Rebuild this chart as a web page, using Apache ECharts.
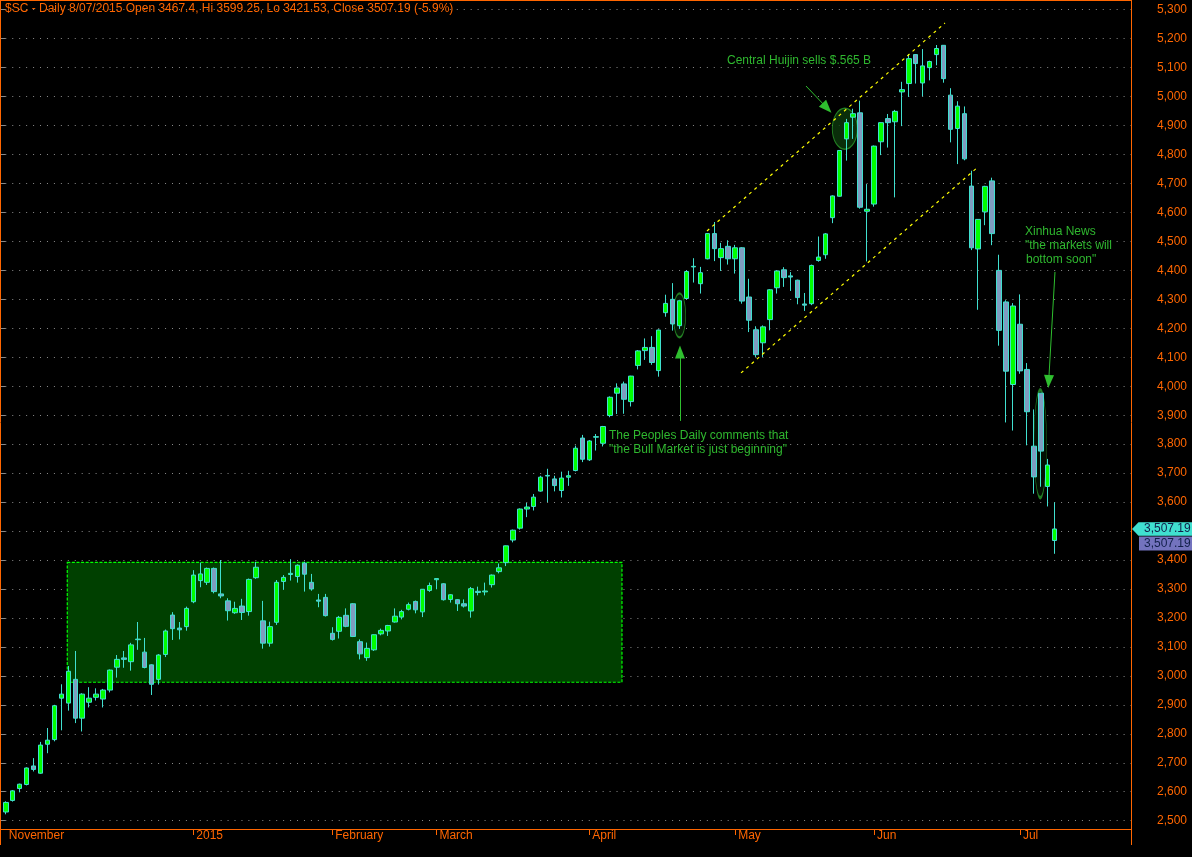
<!DOCTYPE html>
<html><head><meta charset="utf-8">
<script src="https://cdn.jsdelivr.net/npm/echarts@6/dist/echarts.min.js"></script>
<style>html,body{margin:0;padding:0;background:#000;}#c{width:1192px;height:857px;}</style>
</head><body><div id="c"></div>
<script>
// ---------- data ----------
const dates = [
'2014-11-25','2014-11-26','2014-11-27','2014-11-28',
'2014-12-01','2014-12-02','2014-12-03','2014-12-04','2014-12-05','2014-12-08','2014-12-09','2014-12-10','2014-12-11','2014-12-12',
'2014-12-15','2014-12-16','2014-12-17','2014-12-18','2014-12-19','2014-12-22','2014-12-23','2014-12-24','2014-12-25','2014-12-26',
'2014-12-29','2014-12-30','2014-12-31',
'2015-01-05','2015-01-06','2015-01-07','2015-01-08','2015-01-09','2015-01-12','2015-01-13','2015-01-14','2015-01-15','2015-01-16',
'2015-01-19','2015-01-20','2015-01-21','2015-01-22','2015-01-23','2015-01-26','2015-01-27','2015-01-28','2015-01-29','2015-01-30',
'2015-02-02','2015-02-03','2015-02-04','2015-02-05','2015-02-06','2015-02-09','2015-02-10','2015-02-11','2015-02-12','2015-02-13',
'2015-02-16','2015-02-17','2015-02-25','2015-02-26','2015-02-27',
'2015-03-02','2015-03-03','2015-03-04','2015-03-05','2015-03-06','2015-03-09','2015-03-10','2015-03-11','2015-03-12','2015-03-13',
'2015-03-16','2015-03-17','2015-03-18','2015-03-19','2015-03-20','2015-03-23','2015-03-24','2015-03-25','2015-03-26','2015-03-27',
'2015-03-30','2015-03-31',
'2015-04-01','2015-04-02','2015-04-03','2015-04-07','2015-04-08','2015-04-09','2015-04-10','2015-04-13','2015-04-14','2015-04-15',
'2015-04-16','2015-04-17','2015-04-20','2015-04-21','2015-04-22','2015-04-23','2015-04-24','2015-04-27','2015-04-28','2015-04-29','2015-04-30',
'2015-05-04','2015-05-05','2015-05-06','2015-05-07','2015-05-08','2015-05-11','2015-05-12','2015-05-13','2015-05-14','2015-05-15',
'2015-05-18','2015-05-19','2015-05-20','2015-05-21','2015-05-22','2015-05-25','2015-05-26','2015-05-27','2015-05-28','2015-05-29',
'2015-06-01','2015-06-02','2015-06-03','2015-06-04','2015-06-05','2015-06-08','2015-06-09','2015-06-10','2015-06-11','2015-06-12',
'2015-06-15','2015-06-16','2015-06-17','2015-06-18','2015-06-19','2015-06-23','2015-06-24','2015-06-25','2015-06-26','2015-06-29','2015-06-30',
'2015-07-01','2015-07-02','2015-07-03','2015-07-06','2015-07-07','2015-07-08'
];
const opens = [
2530,2570,2611,2625,2689,2664,2764,2780,2923,2906,
2988,2854,2909,2926,2920,2951,3030,3062,3049,3125,
3082,3038,2988,3074,3210,3165,3170,3256,3329,3323,
3371,3283,3259,3218,3241,3222,3339,3190,3113,3185,
3326,3350,3343,3389,3323,3262,3271,3147,3154,3209,
3249,3118,3063,3090,3145,3155,3186,3203,3230,3257,
3221,3295,3332,3318,3264,3263,3249,3224,3292,3290,
3315,3360,3391,3469,3510,3576,3585,3638,3690,3680,
3640,3686,3709,3821,3746,3824,3803,3899,3976,4008,
3947,4072,4123,4134,4054,4254,4300,4209,4303,4412,
4354,4440,4527,4444,4483,4440,4478,4308,4195,4150,
4230,4340,4402,4381,4366,4284,4285,4434,4454,4582,
4656,4854,4929,4944,4604,4629,4844,4924,4913,5016,
5045,5145,5047,5100,5145,5177,5005,4890,4941,4691,
4474,4602,4709,4400,4291,4006,4214,4058,3793,3976,
3654,3467.4];
const highs = [
2567,2606,2628,2684,2716,2772,2820,2900,2971,3034,
3086,2940,2961,2957,2955,3022,3072,3086,3114,3186,
3131,3040,3075,3160,3220,3186,3239,3365,3391,3374,
3374,3400,3268,3256,3266,3336,3394,3259,3187,3331,
3348,3403,3385,3394,3352,3283,3283,3168,3207,3233,
3251,3126,3115,3143,3163,3176,3233,3228,3253,3260,
3300,3322,3337,3320,3282,3265,3264,3307,3308,3322,
3350,3388,3450,3505,3578,3597,3628,3691,3715,3691,
3705,3708,3795,3832,3814,3835,3863,3965,4010,4016,
4036,4125,4165,4173,4196,4316,4356,4296,4400,4442,
4412,4529,4567,4495,4504,4488,4480,4371,4207,4210,
4335,4400,4411,4394,4368,4322,4420,4517,4529,4659,
4815,4923,4958,4986,4698,4831,4911,4940,4954,5051,
5147,5147,5164,5124,5178,5178,5029,4984,4966,4744,
4577,4692,4720,4454,4297,4287,4317,4080,3920,3976,
3749,3599.25];
const lows = [
2522,2566,2598,2622,2670,2662,2733,2774,2812,2880,
2837,2808,2891,2915,2891,2943,2994,3028,3018,3090,
3026,2934,2970,3065,3124,3126,3156,3251,3306,3314,
3285,3268,3191,3214,3193,3208,3335,3094,3101,3176,
3297,3329,3322,3291,3294,3237,3205,3122,3129,3168,
3134,3057,3052,3086,3140,3138,3184,3195,3226,3216,
3203,3290,3299,3260,3253,3224,3236,3201,3278,3278,
3305,3354,3379,3461,3505,3548,3571,3636,3600,3637,
3616,3656,3706,3738,3742,3778,3792,3893,3904,3905,
3930,4058,4091,4074,4033,4240,4192,4198,4300,4358,
4320,4438,4432,4398,4420,4389,4285,4187,4101,4101,
4193,4320,4343,4329,4283,4260,4280,4430,4440,4563,
4655,4779,4854,4613,4431,4620,4798,4824,4652,4898,
4999,5045,5001,5056,5108,5048,4842,4767,4780,4470,
4264,4556,4487,4140,3875,3847,4043,3796,3629,3653,
3585,3421.53];
const closes = [
2563,2603,2626,2682,2677,2761,2778,2897,2937,3016,
2854,2937,2923,2937,2951,3020,3057,3057,3107,3127,
3029,2971,3072,3155,3163,3159,3233,3348,3352,3371,
3291,3276,3225,3233,3219,3333,3375,3113,3170,3323,
3340,3354,3382,3351,3300,3258,3208,3126,3202,3171,
3136,3076,3095,3142,3157,3174,3206,3222,3246,3228,
3299,3312,3336,3263,3280,3249,3241,3301,3288,3293,
3348,3373,3449,3503,3576,3583,3617,3686,3692,3657,
3683,3691,3786,3748,3811,3826,3861,3962,3994,3955,
4035,4122,4134,4082,4194,4286,4215,4295,4396,4414,
4392,4527,4475,4475,4440,4478,4294,4228,4109,4205,
4333,4398,4375,4377,4306,4280,4417,4446,4526,4657,
4814,4910,4941,4618,4611,4829,4910,4910,4949,5024,
5131,5114,5106,5121,5166,5062,4887,4967,4785,4478,
4576,4690,4527,4193,4052,4277,4053,3912,3687,3776,
3728,3507.19];

const firstLabelDate = '2014-11-25';
const firstLabel = 'November';
const monthTickDates = ['2015-01-05','2015-02-02','2015-03-02','2015-04-01','2015-05-04','2015-06-01','2015-07-01'];
const monthTickLabels = ['2015','February','March','April','May','Jun','Jul'];
const priceMin = 2500, priceMax = 5300, priceStep = 100;

// annotations (in bar-index / price coordinates)
const boxIdx = [8.85, 88.71];
const boxPrice = [3392, 2978];
const upperChannel = [[100.95, 4536], [135.21, 5254]];
const lowerChannel = [[105.85, 4046], [139.96, 4757]];
const ellipseIdx = [96.99, 120.79, 148.93];
const ellipsePrice = [4245, 4889, 3801];
const arrowFrom = [[115.2, 5036.6], [97.06, 3880.2], [151.05, 4394.6]];
const arrowTo = [[118.22, 4960.7], [97.06, 4118.4], [150.14, 4016.6]];

// ---------- chart ----------
const ORANGE = '#ff6600';
const FONT = '"Liberation Sans", Arial, sans-serif';
const GREEN_TXT = '#2fb82f';
const n = dates.length;
const bw = 6.946;

const fmtComma = v => { const p = String(v).split('.'); p[0] = p[0].replace(/\B(?=(\d{3})+(?!\d))/g, ','); return p.join('.'); };
const labelMap = {}; labelMap[firstLabelDate] = firstLabel;
monthTickDates.forEach((d, i) => labelMap[d] = monthTickLabels[i]);
const tickSet = new Set(monthTickDates);

const last = n - 1;
const pct = ((closes[last] / closes[last - 1] - 1) * 100).toFixed(1);
const d = dates[last].split('-');
const titleText = '$SC - Daily ' + (+d[2]) + '/' + d[1] + '/' + d[0] + ' Open ' + opens[last] + ', Hi ' + highs[last] +
  ', Lo ' + lows[last] + ', Close ' + closes[last] + ' (' + pct + '%)';

const ellipsePath = 'path://M1,0 C1.552,0 2,0.448 2,1 C2,1.552 1.552,2 1,2 C0.448,2 0,1.552 0,1 C0,0.448 0.448,0 1,0 Z';
const ellipseSizes = [[12.4, 44], [25, 41], [12.7, 108]];
const ellipseFills = ['#061c06', '#0c3a0c', '#041404'];

const chart = echarts.init(document.getElementById('c'), null, {renderer: 'canvas'});
const option = {
  backgroundColor: '#000',
  animation: false,
  title: {
    text: titleText, left: 5, top: 3, padding: 0,
    textStyle: {color: ORANGE, fontSize: 12, fontWeight: 'normal', fontFamily: FONT}
  },
  grid: [
    {left: 0.5, top: 9.7, width: 1130.5, height: 811},
    {left: 2.33, top: 9.7, width: bw * n, height: 811}
  ],
  xAxis: [
    {type: 'value', gridIndex: 0, min: 0, max: 1, show: false},
    {type: 'category', gridIndex: 1, data: dates, boundaryGap: true, offset: 8.3,
     axisLine: {show: false},
     axisTick: {show: true, alignWithLabel: true, length: 6, lineStyle: {color: ORANGE, width: 1},
                interval: (i, v) => tickSet.has(v)},
     axisLabel: {show: true, interval: (i, v) => labelMap[v] !== undefined,
                 formatter: v => labelMap[v] || '', color: ORANGE, fontSize: 12, fontFamily: FONT,
                 align: 'left', padding: [0, 0, 0, 3], margin: 1},
     splitLine: {show: false}},
    {type: 'value', gridIndex: 1, position: 'top', min: -0.5, max: n - 0.5, show: false}
  ],
  yAxis: [
    {type: 'value', gridIndex: 0, position: 'right', min: priceMin, max: priceMax, interval: priceStep,
     axisLine: {show: false},
     axisTick: {show: true, length: 5, lineStyle: {color: '#8a8a8a'}},
     axisLabel: {color: ORANGE, fontSize: 12, fontFamily: FONT, margin: 26, formatter: v => fmtComma(v)},
     splitLine: {show: true, lineStyle: {color: '#8a8a8a', width: 1, type: [1, bw - 1], dashOffset: 2.15}}},
    {type: 'value', gridIndex: 1, min: priceMin, max: priceMax, show: false}
  ],
  series: [
    {
      type: 'line', xAxisIndex: 2, yAxisIndex: 1, data: [], symbol: 'none', silent: true, z: 1,
      markArea: {
        silent: true, label: {show: false},
        itemStyle: {color: '#004000', borderColor: '#00ff00', borderWidth: 1.2, borderType: [3, 1.6]},
        data: [[{coord: [boxIdx[0], boxPrice[0]]}, {coord: [boxIdx[1], boxPrice[1]]}]]
      }
    },
    {
      type: 'scatter', xAxisIndex: 2, yAxisIndex: 1, silent: true, z: 3, symbol: ellipsePath,
      itemStyle: {borderColor: '#2a9a2a', borderWidth: 1.2},
      data: ellipseIdx.map((x, i) => ({value: [x, ellipsePrice[i]], symbolSize: ellipseSizes[i],
                                      itemStyle: {color: ellipseFills[i]}}))
    },
    {
      type: 'candlestick', xAxisIndex: 1, yAxisIndex: 1, z: 5, silent: true, barWidth: 5,
      itemStyle: {color: '#00ff00', color0: '#7f9cc0', borderColor: '#40e0d0', borderColor0: '#40e0d0',
                  borderColorDoji: '#40e0d0', borderWidth: 1},
      data: dates.map((_, i) => [opens[i], closes[i], lows[i], highs[i]])
    },
    {type: 'line', xAxisIndex: 2, yAxisIndex: 1, data: upperChannel, symbol: 'none', silent: true, z: 6,
     lineStyle: {color: '#ffff00', width: 1.2, type: [3, 4]}},
    {type: 'line', xAxisIndex: 2, yAxisIndex: 1, data: lowerChannel, symbol: 'none', silent: true, z: 6,
     lineStyle: {color: '#ffff00', width: 1.2, type: [3, 4]}},
    {
      type: 'line', xAxisIndex: 2, yAxisIndex: 1, data: [], symbol: 'none', silent: true, z: 7,
      markLine: {
        silent: true, symbol: ['none', 'triangle'], symbolSize: [10, 13], label: {show: false},
        lineStyle: {color: '#2fbf2f', width: 1, type: 'solid'},
        itemStyle: {color: '#33cc33'},
        data: arrowFrom.map((f, i) => [{coord: f}, {coord: arrowTo[i]}])
      }
    }
  ]
};
chart.setOption(option);

const py = chart.convertToPixel({yAxisIndex: 0}, closes[last]);
const tagText = fmtComma(closes[last].toFixed(2));
const txt = (s, x, y) => ({type: 'text', x: x, y: y, z: 100, silent: true,
  style: {text: s, fill: GREEN_TXT, font: '12px ' + FONT, verticalAlign: 'middle', align: 'left'}});
const ln = (x1, y1, x2, y2) => ({type: 'line', z: 100, silent: true, shape: {x1, y1, x2, y2},
  style: {stroke: ORANGE, lineWidth: 1}});
chart.setOption({
  graphic: [
    ln(0, 0.5, 1132, 0.5), ln(0.5, 0, 0.5, 845), ln(1131.5, 0, 1131.5, 845), ln(0, 829.5, 1132, 829.5),
    txt('Central Huijin sells $.565 B', 727, 61),
    txt('The Peoples Daily comments that', 609, 436),
    txt('"the Bull Market is just beginning"', 609, 450),
    txt('Xinhua News', 1025, 232),
    txt('"the markets will', 1025, 246),
    txt('bottom soon"', 1026, 260),
    {type: 'polygon', z: 100, silent: true,
     shape: {points: [[1132, py], [1138.5, py - 6.8], [1192, py - 6.8], [1192, py + 6.8], [1138.5, py + 6.8]]},
     style: {fill: '#40e0d0'}},
    {type: 'text', z: 101, silent: true, x: 1144, y: py,
     style: {text: tagText, fill: '#12204a', font: '12px ' + FONT, verticalAlign: 'middle', align: 'left'}},
    {type: 'rect', z: 100, silent: true, shape: {x: 1139, y: py + 7.6, width: 53, height: 14},
     style: {fill: '#7373be'}},
    {type: 'text', z: 101, silent: true, x: 1144, y: py + 14.8,
     style: {text: tagText, fill: '#12204a', font: '12px ' + FONT, verticalAlign: 'middle', align: 'left'}}
  ]
});
</script>
</body></html>
